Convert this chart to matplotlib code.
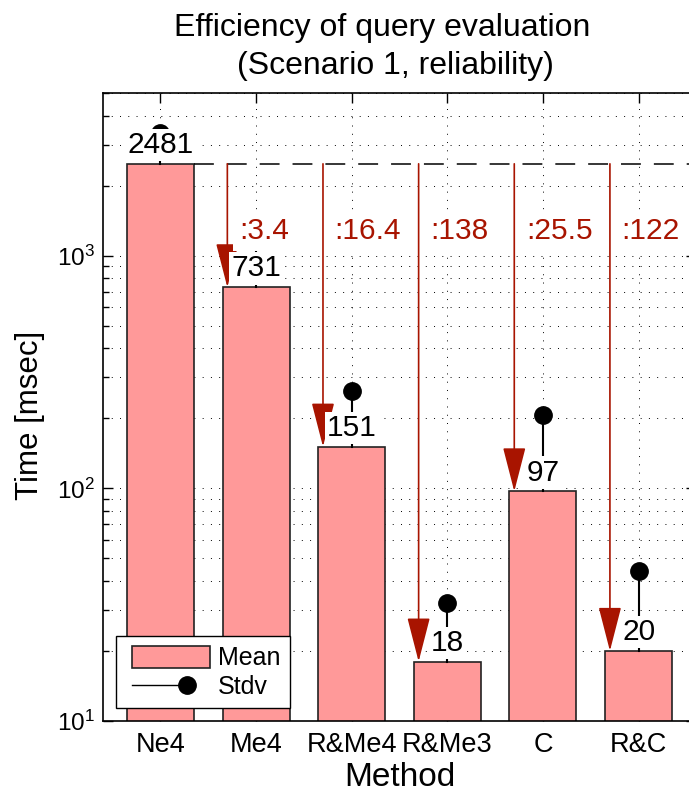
import numpy as np
import matplotlib
matplotlib.use("Agg")
import matplotlib.pyplot as plt
from matplotlib.lines import Line2D
from matplotlib.patches import Patch, Rectangle
from matplotlib.legend_handler import HandlerBase
from matplotlib.ticker import LogLocator, NullFormatter, FixedLocator

# Query evaluation timings per method (milliseconds)
methods = ["Ne4", "Me4", "R&Me4", "R&Me3", "C", "R&C"]
mean_ms = [2481, 731, 151, 18, 97, 20]
stdv_ms = [880, 440, 112, 14, 109, 24]
speedup = ["3.4", "16.4", "138", "25.5", "122"]

plt.rcParams["font.family"] = ["Liberation Sans", "DejaVu Sans"]
plt.rcParams["mathtext.fontset"] = "custom"
plt.rcParams["mathtext.rm"] = "Liberation Sans"
plt.rcParams["mathtext.it"] = "Liberation Sans:italic"
plt.rcParams["mathtext.bf"] = "Liberation Sans:bold"

BAR = "#ff9999"
EDGE = "#222222"
RED = "#a81400"
W, H = 689, 793

fig = plt.figure(figsize=(W / 100, H / 100), dpi=100)
ax = fig.add_axes([103 / W, 1 - 721 / H, 593 / W, (721 - 93) / H])

x = np.arange(1, len(methods) + 1)
width = 0.7
means = np.array(mean_ms, dtype=float)
tops = means + np.array(stdv_ms, dtype=float)

ax.set_yscale("log")
ax.set_xlim(0.4, len(methods) + 0.6)
ax.set_ylim(10, 5000)

ax.bar(x, means, width, color=BAR, edgecolor=EDGE, linewidth=1.2, zorder=2)

# standard deviation stems
for xi, m, t in zip(x, means, tops):
    ax.plot([xi, xi], [m, t], color="k", lw=1.5, zorder=3)
ax.plot(x, tops, "o", color="k", ms=12.5, zorder=3, ls="none")

# reference level of the baseline method
ref = means[0]
ax.hlines(ref, x[0] + width / 2, len(methods) + 0.6, colors="k", lw=1.1,
          linestyles=[(0, (13, 8.5))], zorder=3)

# speed-up arrows
for xi, m, r in zip(x[1:], means[1:], speedup):
    xa = xi - 0.3
    ax.annotate("", xy=(xa, m), xytext=(xa, ref),
                arrowprops=dict(arrowstyle="-|>,head_length=2.8,head_width=0.72",
                                mutation_scale=10, color=RED, lw=1.2,
                                shrinkA=0, shrinkB=0), zorder=4)
    ax.text(xa + 0.12, 1270, ":" + r, color=RED, fontsize=21.5, ha="left",
            va="center", zorder=5,
            bbox=dict(facecolor="white", edgecolor="none", pad=4))

# mean value labels
for xi, m in zip(x, means):
    ax.annotate(f"{m:.0f}", xy=(xi, m), xytext=(0, 3.5), textcoords="offset points",
                ha="center", va="bottom", fontsize=21.5, zorder=5,
                bbox=dict(facecolor="white", edgecolor="none", pad=1.5))

ax.set_xticks(x)
ax.set_xticklabels(methods)
ax.yaxis.set_major_locator(FixedLocator([10, 100, 1000]))
ax.yaxis.set_minor_locator(LogLocator(base=10, subs=np.arange(2, 10)))
ax.yaxis.set_minor_formatter(NullFormatter())

ax.set_axisbelow(True)
dots = (0, (1, 7.5))
ax.grid(True, which="both", axis="y", ls=dots, color="k", lw=0.7)
ax.grid(True, which="major", axis="x", ls=dots, color="k", lw=0.7)

ax.tick_params(which="both", direction="in", top=True, right=True, width=1)
ax.tick_params(which="major", length=7)
ax.tick_params(axis="x", which="major", labelsize=19.5, pad=8)
ax.tick_params(axis="y", which="major", labelsize=17.5, pad=6)
ax.tick_params(which="minor", length=4)
ax.tick_params(axis="x", which="minor", bottom=False, top=False)
for s in ax.spines.values():
    s.set_linewidth(1.2)

ax.set_xlabel("Method", fontsize=24, labelpad=3)
ax.set_ylabel("Time [msec]", fontsize=22.5)
ax.yaxis.set_label_coords(-0.097, (721 - 415) / 628)

fig.text(382 / W, 1 - 28 / H, "Efficiency of query evaluation", fontsize=23,
         ha="center", va="center")
fig.text(395 / W, 1 - 66 / H, "(Scenario 1, reliability)", fontsize=23,
         ha="center", va="center")

INSET = 5  # left inset of legend handles, in points


class MeanHandler(HandlerBase):
    def create_artists(self, legend, orig_handle, xdescent, ydescent, width,
                       height, fontsize, trans):
        rect = Rectangle((-xdescent + INSET, -ydescent), width - INSET, height,
                         facecolor=BAR, edgecolor=EDGE, lw=1.2, transform=trans)
        return [rect]


class StemHandler(HandlerBase):
    def create_artists(self, legend, orig_handle, xdescent, ydescent, width,
                       height, fontsize, trans):
        y = height / 2 - ydescent
        xd = width - xdescent - 16.5
        line = Line2D([-xdescent + INSET, xd], [y, y], color="k", lw=1)
        dot = Line2D([xd], [y], marker="o", color="k", ms=12.5, ls="none")
        line.set_transform(trans)
        dot.set_transform(trans)
        return [line, dot]


mean_handle = Patch(facecolor=BAR, edgecolor=EDGE)
stem_handle = Line2D([], [], color="k")
leg = ax.legend([mean_handle, stem_handle], ["Mean", "Stdv"], loc="lower left",
                fontsize=18,
                handler_map={mean_handle: MeanHandler(), stem_handle: StemHandler()},
                handlelength=3.36, handleheight=0.96, labelspacing=0.15,
                borderaxespad=0.52, fancybox=False, framealpha=1,
                edgecolor="k", handletextpad=0.35, borderpad=0.38)
leg.get_frame().set_linewidth(1.0)
leg.set_zorder(6)

fig.savefig("out.png", dpi=100)
